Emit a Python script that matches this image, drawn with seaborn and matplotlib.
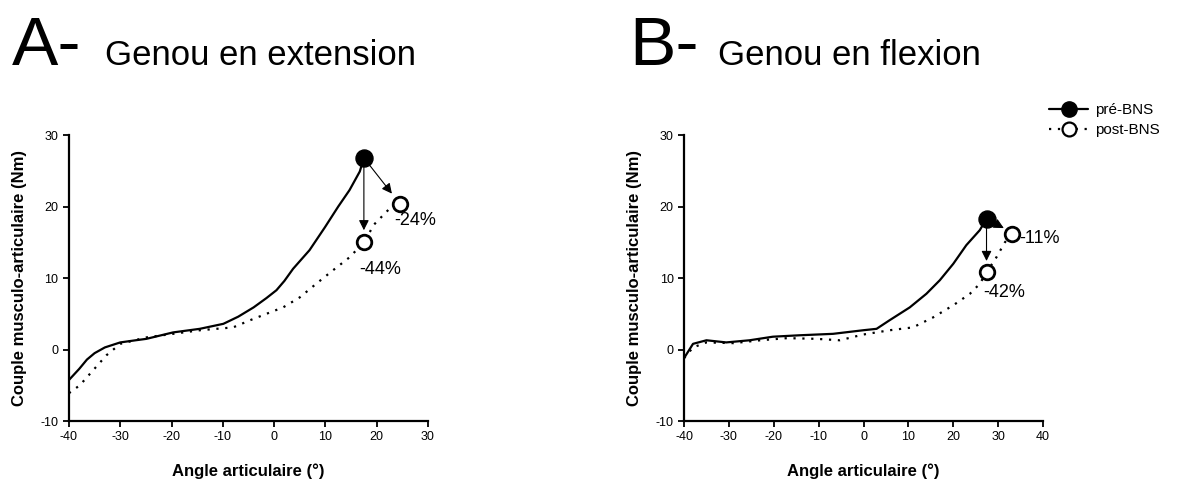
import pandas as pd
import numpy as np
import seaborn as sns
import matplotlib.pyplot as plt
from matplotlib.lines import Line2D

# Panel A - genou en extension
ext_angle_pre = [-40, -38, -36.5, -35, -33, -30, -27, -24.9, -19.7, -14.5, -9.9, -7, -4, -1.5, 0.45, 2, 3.7, 6.9, 9.9, 12.5, 14.7, 16.7, 17.5]
ext_pre = [-4.25, -2.7, -1.4, -0.5, 0.3, 1.0, 1.3, 1.5, 2.4, 2.9, 3.6, 4.6, 5.9, 7.2, 8.3, 9.6, 11.3, 13.9, 17.1, 20.0, 22.3, 24.9, 26.8]
ext_angle_post = [-40, -37.9, -35.3, -32.7, -30, -24.9, -19.7, -14.5, -8, -4.7, -1.5, 1.75, 5, 8.2, 11.5, 14.7, 17.5, 19.5, 22.5, 24.5]
ext_post = [-6.1, -5.0, -2.9, -0.8, 0.8, 1.7, 2.2, 2.7, 3.1, 4.1, 5.0, 5.9, 7.3, 9.2, 11.1, 12.9, 15.0, 17.5, 19.7, 20.4]
ext_peak_pre = (17.5, 26.8)
ext_peak_post = [(17.5, 15.0), (24.5, 20.4)]
ext_labels = ["-44%", "-24%"]

# Panel B - genou en flexion
flex_angle_pre = [-40, -38, -35, -30.6, -25.4, -20.2, -14.2, -6.8, -0.1, 2.9, 5.8, 10.3, 14, 17, 20, 22.9, 25.9, 27.4]
flex_pre = [-1.2, 0.8, 1.3, 1.0, 1.3, 1.8, 2.0, 2.2, 2.7, 2.9, 4.1, 5.9, 7.8, 9.7, 12.0, 14.6, 16.7, 18.3]
flex_angle_post = [-40, -38, -35, -29, -23, -17, -10.5, -5.3, -0.1, 5.8, 11, 15.5, 20, 23.7, 25.9, 27.4, 29.6, 31.5, 33.1]
flex_post = [-1.2, 0.3, 1.0, 0.9, 1.3, 1.6, 1.5, 1.3, 2.1, 2.7, 3.1, 4.5, 6.2, 7.8, 9.2, 10.8, 12.9, 15.0, 16.2]
flex_peak_pre = (27.4, 18.3)
flex_peak_post = [(27.4, 10.8), (33.1, 16.2)]
flex_labels = ["-42%", "-11%"]

sns.set_style("ticks")
plt.rcParams['font.family'] = ['Liberation Sans', 'DejaVu Sans']
plt.rcParams['axes.unicode_minus'] = False
plt.rcParams['text.color'] = 'black'
plt.rcParams['axes.labelcolor'] = 'black'

fig = plt.figure(figsize=(11.81, 4.84), dpi=100)
axA = fig.add_axes([0.0584, 0.130, 0.304, 0.591])
axB = fig.add_axes([0.5792, 0.130, 0.304, 0.591])

dots = (0, (1, 3))


def draw_panel(ax, ang_pre, pre, ang_post, post, peak, peaks_post, labels, label_pos, arrow_ends, xmax):
    d_pre = pd.DataFrame({'angle': ang_pre, 'couple': pre})
    d_post = pd.DataFrame({'angle': ang_post, 'couple': post})
    sns.lineplot(data=d_pre, x='angle', y='couple', ax=ax, color='black', lw=1.6, sort=False)
    sns.lineplot(data=d_post, x='angle', y='couple', ax=ax, color='black', lw=1.6, ls=dots, sort=False)
    # arrows
    for end in arrow_ends:
        ax.annotate('', xy=end, xytext=peak,
                    arrowprops=dict(arrowstyle='-|>', color='black', lw=0.8, mutation_scale=15))
    pts = pd.DataFrame({'angle': [p[0] for p in peaks_post], 'couple': [p[1] for p in peaks_post]})
    sns.scatterplot(data=pts, x='angle', y='couple', ax=ax, s=110, facecolor='white',
                    edgecolor='black', linewidth=2, zorder=5)
    ax.scatter([peak[0]], [peak[1]], s=150, color='black', zorder=6)
    for lab, pos in zip(labels, label_pos):
        ax.text(pos[0], pos[1], lab, fontsize=13, ha='left', va='center')
    ax.set_xlim(-40, xmax)
    ax.set_ylim(-10, 30)
    ax.set_xticks(range(-40, xmax + 1, 10))
    ax.set_yticks([-10, 0, 10, 20, 30])
    ax.tick_params(labelsize=9, length=4, width=1.3, colors='black')
    for s in ['left', 'bottom']:
        ax.spines[s].set_linewidth(1.6)
        ax.spines[s].set_color('black')
    sns.despine(ax=ax)
    ax.set_xlabel('Angle articulaire (°)', fontsize=12, fontweight='bold', labelpad=14)
    ax.set_ylabel('Couple musculo-articulaire (Nm)', fontsize=12, fontweight='bold', labelpad=10)


draw_panel(axA, ext_angle_pre, ext_pre, ext_angle_post, ext_post, ext_peak_pre, ext_peak_post,
           ext_labels, [(16.6, 11.2), (23.5, 18.1)], [(17.5, 16.3), (23.3, 21.5)], 30)
draw_panel(axB, flex_angle_pre, flex_pre, flex_angle_post, flex_post, flex_peak_pre, flex_peak_post,
           flex_labels, [(26.6, 8.0), (34.8, 15.5)], [(27.4, 12.0), (31.8, 16.8)], 40)

fig.text(0.010, 0.865, 'A-', fontsize=50)
fig.text(0.089, 0.865, 'Genou en extension', fontsize=25)
fig.text(0.533, 0.865, 'B-', fontsize=50)
fig.text(0.608, 0.865, 'Genou en flexion', fontsize=25)

handles = [Line2D([], [], color='black', lw=1.6, marker='o', markersize=11, markerfacecolor='black'),
           Line2D([], [], color='black', lw=1.6, ls=dots, marker='o', markersize=10,
                  markerfacecolor='white', markeredgewidth=1.6)]
fig.legend(handles, ['pré-BNS', 'post-BNS'], loc='upper left', bbox_to_anchor=(0.877, 0.815),
           frameon=False, fontsize=11, handlelength=2.5, labelspacing=0.4, handletextpad=0.5)

fig.savefig('out.png', dpi=100)
